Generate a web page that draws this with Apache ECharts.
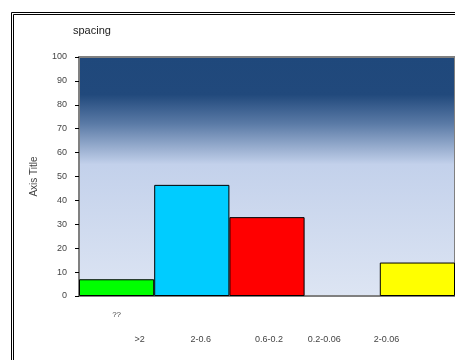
<!DOCTYPE html>
<html>
<head>
<meta charset="utf-8">
<script src="https://cdn.jsdelivr.net/npm/echarts@6/dist/echarts.min.js"></script>
<style>
  html, body { margin: 0; padding: 0; background: #fff; }
  #chart { width: 455px; height: 360px; }
</style>
</head>
<body>
<div id="chart"></div>
<script>
// Grain-size classes and the share of each class
const categories = ['>2', '2-0.6', '0.6-0.2', '0.2-0.06', '2-0.06'];
const values = [7, 46.5, 33, 0, 14];
const barColors = ['#00ff00', '#00ccff', '#ff0000', '#ffff00', '#ffff00'];
const upperLabels = ['??', '', '', '', ''];
const yTicks = { min: 0, max: 100, interval: 10 };

// horizontal nudge (px) of each class label under its bar
const labelShift = [23, 9, 2, -18, -31];

const chart = echarts.init(document.getElementById('chart'), null, { renderer: 'canvas' });

const font = 'Liberation Sans, Arial, sans-serif';

const rich = {};
labelShift.forEach((d, i) => {
  rich['s' + i] = {
    fontSize: 9,
    fontFamily: font,
    color: '#444',
    padding: d >= 0 ? [0, 0, 0, 2 * d] : [0, -2 * d, 0, 0]
  };
});

chart.setOption({
  animation: false,
  backgroundColor: '#ffffff',
  title: {
    text: 'spacing',
    left: 73,
    top: 25,
    padding: 0,
    textStyle: { fontSize: 11, fontWeight: 'normal', color: '#222', fontFamily: font }
  },
  graphic: [
    { type: 'rect', shape: { x: 11.5, y: 12.5, width: 500, height: 400 }, style: { fill: null, stroke: '#000', lineWidth: 1 }, silent: true },
    { type: 'rect', shape: { x: 13.5, y: 14.5, width: 500, height: 400 }, style: { fill: null, stroke: '#000', lineWidth: 1 }, silent: true }
  ],
  grid: {
    left: 79, top: 57, right: -3, bottom: 64,
    show: true,
    borderColor: '#808080',
    borderWidth: 2,
    backgroundColor: {
      type: 'linear', x: 0, y: 0, x2: 0, y2: 1,
      colorStops: [
        { offset: 0, color: '#1f487b' },
        { offset: 0.16, color: '#21497c' },
        { offset: 0.28, color: '#5a7aa6' },
        { offset: 0.45, color: '#c3d1eb' },
        { offset: 1, color: '#dde5f3' }
      ]
    }
  },
  xAxis: [
    {
      type: 'category',
      data: categories,
      axisLine: { lineStyle: { color: '#808080', width: 2 } },
      axisTick: { show: false },
      axisLabel: {
        margin: 39,
        interval: 0,
        formatter: (v, i) => '{s' + i + '|' + v + '}',
        rich: rich
      }
    },
    {
      type: 'category',
      position: 'bottom',
      data: upperLabels,
      axisLine: { show: false },
      axisTick: { show: false },
      axisLabel: { margin: 15, interval: 0, fontSize: 8, color: '#444', fontFamily: font }
    }
  ],
  yAxis: {
    type: 'value',
    min: yTicks.min,
    max: yTicks.max,
    interval: yTicks.interval,
    name: 'Axis Title',
    nameLocation: 'middle',
    nameGap: 40,
    nameTextStyle: { fontSize: 10, color: '#444', fontFamily: font },
    axisLine: { show: true, lineStyle: { color: '#808080', width: 2 } },
    axisTick: { show: true, length: 4, lineStyle: { color: '#000' } },
    splitLine: { show: false },
    axisLabel: { margin: 12, fontSize: 9, color: '#444', fontFamily: font }
  },
  series: [{
    type: 'bar',
    z: 1,
    data: values.map((v, i) => ({
      value: v,
      itemStyle: { color: barColors[i], borderWidth: v === 0 ? 0 : 1 }
    })),
    barCategoryGap: '0%',
    itemStyle: { borderColor: '#000', borderWidth: 1 }
  }]
});
</script>
</body>
</html>
